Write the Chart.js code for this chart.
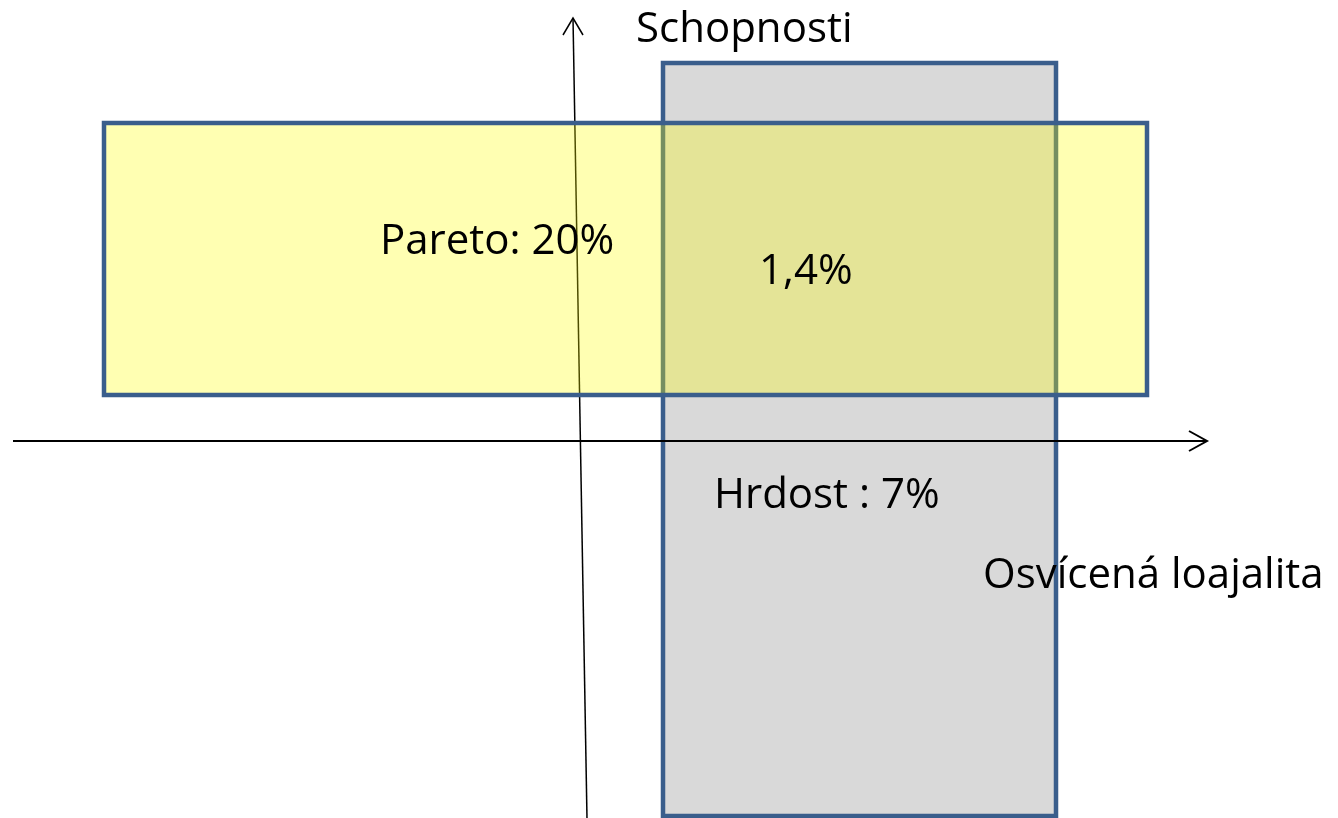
<!DOCTYPE html>
<html lang="cs">
<head>
<meta charset="utf-8">
<title>Schopnosti a loajalita</title>
<script src="https://cdn.jsdelivr.net/npm/chart.js@4.4.1/dist/chart.umd.min.js"></script>
<style>
  html, body { margin: 0; padding: 0; background: #fff; }
  #box { width: 1338px; height: 818px; }
</style>
</head>
<body>
<div id="box"><canvas id="myChart"></canvas></div>
<script>
// Rozsah os diagramu (počátek = průsečík os)
const xRange = [-580, 758];
const yRange = [-377, 441];

// Obdélníky: [x od, x do, y od, y do]
const paretoBox = [-476, 567, 46, 318];
const hrdostBox = [83, 476, -375, 378];

// Osy a šipky
const xAxisLine = [[-567, 0], [627, 0]];
const xArrowHead = [[609, 10], [627, 0], [609, -10]];
const yAxisLine = [[7, -377], [-7, 423]];
const yArrowHead = [[-17, 406], [-7, 423], [3, 406]];

// Popisky
const labels = ['Schopnosti', 'Pareto: 20%', '1,4%', 'Hrdost : 7%', 'Osvícená loajalita'];
const labelX = [56, -200, 179, 134, 403];
const labelY = [399, 187, 157, -67, -147];

const toPoints = arr => arr.map(p => ({ x: p[0], y: p[1] }));
const boxPoints = b => [
    { x: b[0], y: b[2] }, { x: b[0], y: b[3] },
    { x: b[1], y: b[3] }, { x: b[1], y: b[2] },
    { x: b[0], y: b[2] }
];

const lineStyle = {
    showLine: true, pointRadius: 0, borderColor: '#000', borderWidth: 2,
    fill: false, tension: 0
};
const boxStyle = {
    showLine: true, pointRadius: 0, borderColor: '#3a5e8c', borderWidth: 4.5,
    fill: 'shape', borderJoinStyle: 'miter', borderCapStyle: 'square', tension: 0
};

// Popisky kreslíme přes měřítka grafu
const textPlugin = {
    id: 'popisky',
    afterDatasetsDraw(chart) {
        const c = chart.ctx;
        const sx = chart.scales.x, sy = chart.scales.y;
        c.save();
        c.fillStyle = '#000';
        c.font = '42px "Open Sans"';
        c.textAlign = 'left';
        c.textBaseline = 'alphabetic';
        labels.forEach((t, i) => {
            c.fillText(t, sx.getPixelForValue(labelX[i]), sy.getPixelForValue(labelY[i]));
        });
        c.restore();
    }
};

const ctx = document.getElementById('myChart').getContext('2d');
new Chart(ctx, {
    type: 'scatter',
    data: {
        datasets: [
            // první dataset se kreslí navrch
            { ...boxStyle, label: 'Pareto', data: boxPoints(paretoBox), backgroundColor: 'rgba(255,255,0,0.3)' },
            { ...lineStyle, label: 'osa y', data: toPoints(yAxisLine), borderWidth: 1.5 },
            { ...lineStyle, label: 'šipka y', data: toPoints(yArrowHead), borderWidth: 1.5 },
            { ...lineStyle, label: 'osa x', data: toPoints(xAxisLine) },
            { ...lineStyle, label: 'šipka x', data: toPoints(xArrowHead) },
            { ...boxStyle, label: 'Hrdost', data: boxPoints(hrdostBox), backgroundColor: '#d9d9d9' }
        ]
    },
    options: {
        responsive: true,
        maintainAspectRatio: false,
        animation: false,
        layout: { padding: 0 },
        scales: {
            x: { type: 'linear', min: xRange[0], max: xRange[1], display: false },
            y: { type: 'linear', min: yRange[0], max: yRange[1], display: false }
        },
        plugins: {
            legend: { display: false },
            tooltip: { enabled: false },
            filler: { drawTime: 'beforeDatasetDraw' }
        }
    },
    plugins: [textPlugin]
});
</script>
</body>
</html>
